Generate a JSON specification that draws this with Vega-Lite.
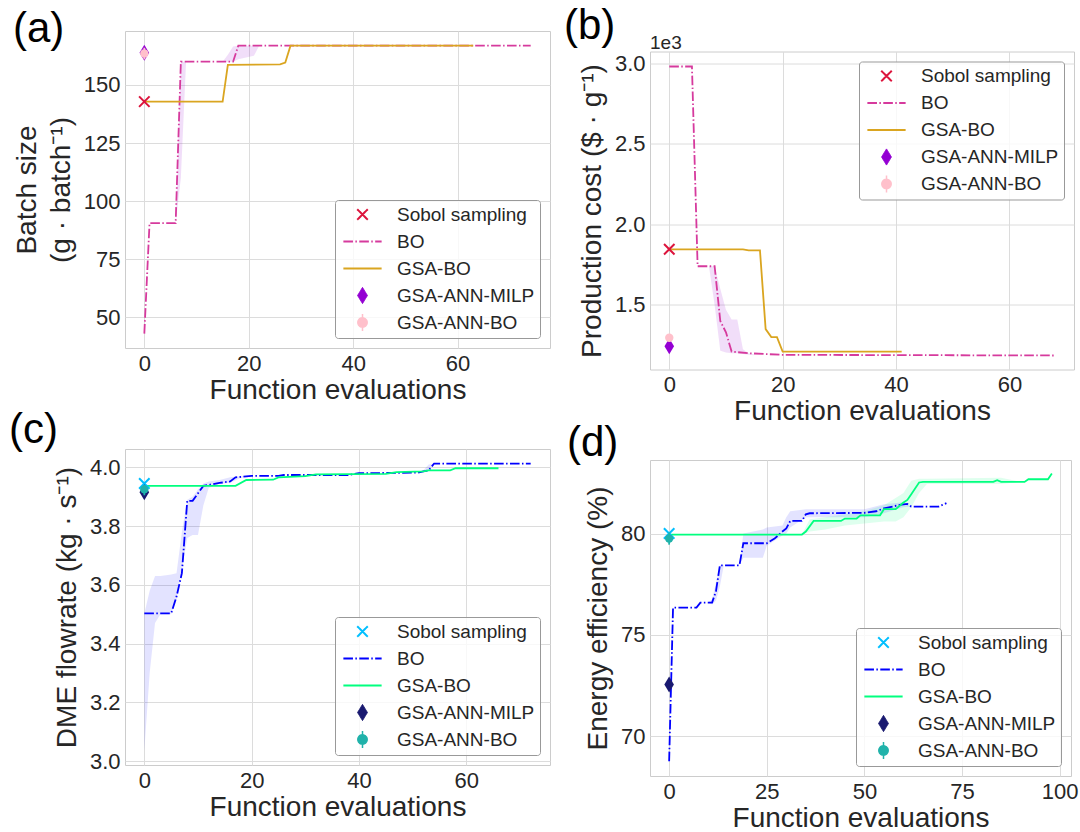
{
  "$schema": "https://vega.github.io/schema/vega-lite/v6.json",
  "background": "white",
  "padding": {"left": 8, "top": 4, "right": 0, "bottom": 0},
  "datasets": {
    "a": [
      {"series": "BO", "x": 0, "y": 43},
      {"series": "BO", "x": 1, "y": 90.5},
      {"series": "BO", "x": 6, "y": 90.5},
      {"series": "BO", "x": 7, "y": 160},
      {"series": "BO", "x": 17, "y": 160},
      {"series": "BO", "x": 18, "y": 166.9},
      {"series": "BO", "x": 74, "y": 166.9},
      {"series": "GSA-BO", "x": 0, "y": 142.8},
      {"series": "GSA-BO", "x": 15, "y": 142.8},
      {"series": "GSA-BO", "x": 16, "y": 158.6},
      {"series": "GSA-BO", "x": 26, "y": 158.8},
      {"series": "GSA-BO", "x": 27, "y": 159.6},
      {"series": "GSA-BO", "x": 28, "y": 166.9},
      {"series": "GSA-BO", "x": 63, "y": 166.9},
      {"series": "BO band", "x": 6, "lo": 90.5, "hi": 90.5},
      {"series": "BO band", "x": 7, "lo": 110, "hi": 160},
      {"series": "BO band", "x": 8, "lo": 160, "hi": 160},
      {"series": "BO band", "x": 15, "lo": 160, "hi": 160},
      {"series": "BO band", "x": 16, "lo": 160, "hi": 163},
      {"series": "BO band", "x": 17, "lo": 160, "hi": 166.5},
      {"series": "BO band", "x": 18, "lo": 161, "hi": 166.9},
      {"series": "BO band", "x": 21, "lo": 162.5, "hi": 166.9},
      {"series": "BO band", "x": 22, "lo": 166.9, "hi": 166.9},
      {"series": "Sobol sampling", "x": 0, "y": 142.8},
      {"series": "GSA-ANN-MILP", "x": 0, "y": 163.8},
      {"series": "GSA-ANN-BO", "x": 0, "y": 163.5, "lo": 161, "hi": 166}
    ],
    "b": [
      {"series": "BO", "x": 0, "y": 2980},
      {"series": "BO", "x": 4, "y": 2980},
      {"series": "BO", "x": 5, "y": 1740},
      {"series": "BO", "x": 8, "y": 1740},
      {"series": "BO", "x": 9, "y": 1400},
      {"series": "BO", "x": 10, "y": 1330},
      {"series": "BO", "x": 11, "y": 1210},
      {"series": "BO", "x": 14, "y": 1200},
      {"series": "BO", "x": 20, "y": 1190},
      {"series": "BO", "x": 68, "y": 1186},
      {"series": "GSA-BO", "x": 0, "y": 1845},
      {"series": "GSA-BO", "x": 13, "y": 1845},
      {"series": "GSA-BO", "x": 14, "y": 1838},
      {"series": "GSA-BO", "x": 16, "y": 1838},
      {"series": "GSA-BO", "x": 17, "y": 1350},
      {"series": "GSA-BO", "x": 18, "y": 1300},
      {"series": "GSA-BO", "x": 19, "y": 1300},
      {"series": "GSA-BO", "x": 20, "y": 1210},
      {"series": "GSA-BO", "x": 41, "y": 1210},
      {"series": "BO band", "x": 7, "lo": 1740, "hi": 1740},
      {"series": "BO band", "x": 8, "lo": 1500, "hi": 1740},
      {"series": "BO band", "x": 9, "lo": 1215, "hi": 1600},
      {"series": "BO band", "x": 10, "lo": 1205, "hi": 1470},
      {"series": "BO band", "x": 11, "lo": 1200, "hi": 1410},
      {"series": "BO band", "x": 12, "lo": 1200, "hi": 1410},
      {"series": "BO band", "x": 13, "lo": 1195, "hi": 1225},
      {"series": "BO band", "x": 14, "lo": 1190, "hi": 1200},
      {"series": "BO band", "x": 15, "lo": 1188, "hi": 1192},
      {"series": "Sobol sampling", "x": 0, "y": 1845},
      {"series": "GSA-ANN-MILP", "x": 0, "y": 1244},
      {"series": "GSA-ANN-BO", "x": 0, "y": 1296, "lo": 1280, "hi": 1312}
    ],
    "c": [
      {"series": "BO", "x": 0, "y": 3.503},
      {"series": "BO", "x": 5, "y": 3.503},
      {"series": "BO", "x": 6, "y": 3.56},
      {"series": "BO", "x": 7, "y": 3.64},
      {"series": "BO", "x": 8, "y": 3.886},
      {"series": "BO", "x": 9, "y": 3.886},
      {"series": "BO", "x": 11, "y": 3.937},
      {"series": "BO", "x": 14, "y": 3.947},
      {"series": "BO", "x": 16, "y": 3.952},
      {"series": "BO", "x": 17, "y": 3.966},
      {"series": "BO", "x": 20, "y": 3.971},
      {"series": "BO", "x": 25, "y": 3.971},
      {"series": "BO", "x": 26, "y": 3.974},
      {"series": "BO", "x": 38, "y": 3.974},
      {"series": "BO", "x": 40, "y": 3.98},
      {"series": "BO", "x": 51, "y": 3.982},
      {"series": "BO", "x": 52, "y": 3.986},
      {"series": "BO", "x": 53, "y": 3.99},
      {"series": "BO", "x": 54, "y": 4.013},
      {"series": "BO", "x": 72, "y": 4.013},
      {"series": "GSA-BO", "x": 0, "y": 3.937},
      {"series": "GSA-BO", "x": 17, "y": 3.937},
      {"series": "GSA-BO", "x": 19, "y": 3.957},
      {"series": "GSA-BO", "x": 24, "y": 3.958},
      {"series": "GSA-BO", "x": 25, "y": 3.966},
      {"series": "GSA-BO", "x": 30, "y": 3.97},
      {"series": "GSA-BO", "x": 32, "y": 3.976},
      {"series": "GSA-BO", "x": 45, "y": 3.978},
      {"series": "GSA-BO", "x": 47, "y": 3.984},
      {"series": "GSA-BO", "x": 52, "y": 3.986},
      {"series": "GSA-BO", "x": 53, "y": 3.99},
      {"series": "GSA-BO", "x": 57, "y": 3.99},
      {"series": "GSA-BO", "x": 58, "y": 3.997},
      {"series": "GSA-BO", "x": 66, "y": 3.997},
      {"series": "BO band", "x": 0, "lo": 3.035, "hi": 3.503},
      {"series": "BO band", "x": 1, "lo": 3.3, "hi": 3.58},
      {"series": "BO band", "x": 2, "lo": 3.47, "hi": 3.63},
      {"series": "BO band", "x": 3, "lo": 3.5, "hi": 3.63},
      {"series": "BO band", "x": 5, "lo": 3.5, "hi": 3.635},
      {"series": "BO band", "x": 6, "lo": 3.55, "hi": 3.64},
      {"series": "BO band", "x": 7, "lo": 3.65, "hi": 3.78},
      {"series": "BO band", "x": 8, "lo": 3.76, "hi": 3.89},
      {"series": "BO band", "x": 9, "lo": 3.77, "hi": 3.9},
      {"series": "BO band", "x": 10, "lo": 3.77, "hi": 3.925},
      {"series": "BO band", "x": 11, "lo": 3.87, "hi": 3.945},
      {"series": "BO band", "x": 12, "lo": 3.93, "hi": 3.952},
      {"series": "BO band", "x": 14, "lo": 3.943, "hi": 3.957},
      {"series": "BO band", "x": 16, "lo": 3.948, "hi": 3.966},
      {"series": "BO band", "x": 18, "lo": 3.965, "hi": 3.97},
      {"series": "BO band", "x": 20, "lo": 3.971, "hi": 3.971},
      {"series": "BO band", "x": 51, "lo": 3.982, "hi": 3.982},
      {"series": "BO band", "x": 52, "lo": 3.984, "hi": 3.99},
      {"series": "BO band", "x": 53, "lo": 3.99, "hi": 4.01},
      {"series": "BO band", "x": 54, "lo": 4.013, "hi": 4.013},
      {"series": "Sobol sampling", "x": 0, "y": 3.945},
      {"series": "GSA-ANN-MILP", "x": 0, "y": 3.915},
      {"series": "GSA-ANN-BO", "x": 0, "y": 3.925, "lo": 3.905, "hi": 3.94}
    ],
    "d": [
      {"series": "BO", "x": 0, "y": 68.76},
      {"series": "BO", "x": 1, "y": 76.34},
      {"series": "BO", "x": 7, "y": 76.34},
      {"series": "BO", "x": 8, "y": 76.59},
      {"series": "BO", "x": 11, "y": 76.59},
      {"series": "BO", "x": 12, "y": 77.16},
      {"series": "BO", "x": 13, "y": 78.43},
      {"series": "BO", "x": 18, "y": 78.43},
      {"series": "BO", "x": 19, "y": 79.52},
      {"series": "BO", "x": 25, "y": 79.52},
      {"series": "BO", "x": 27, "y": 79.75},
      {"series": "BO", "x": 29, "y": 80.1},
      {"series": "BO", "x": 30, "y": 80.25},
      {"series": "BO", "x": 31, "y": 80.62},
      {"series": "BO", "x": 34, "y": 80.62},
      {"series": "BO", "x": 35, "y": 80.95},
      {"series": "BO", "x": 36, "y": 81.0},
      {"series": "BO", "x": 50, "y": 81.02},
      {"series": "BO", "x": 53, "y": 81.1},
      {"series": "BO", "x": 55, "y": 81.24},
      {"series": "BO", "x": 59, "y": 81.41},
      {"series": "BO", "x": 61, "y": 81.46},
      {"series": "BO", "x": 62, "y": 81.33},
      {"series": "BO", "x": 69, "y": 81.33},
      {"series": "BO", "x": 71, "y": 81.5},
      {"series": "GSA-BO", "x": 0, "y": 79.95},
      {"series": "GSA-BO", "x": 34, "y": 79.95},
      {"series": "GSA-BO", "x": 35, "y": 80.1},
      {"series": "GSA-BO", "x": 37, "y": 80.62},
      {"series": "GSA-BO", "x": 44, "y": 80.62},
      {"series": "GSA-BO", "x": 45, "y": 80.74},
      {"series": "GSA-BO", "x": 48, "y": 80.74},
      {"series": "GSA-BO", "x": 49, "y": 80.9},
      {"series": "GSA-BO", "x": 54, "y": 80.9},
      {"series": "GSA-BO", "x": 55, "y": 81.2},
      {"series": "GSA-BO", "x": 58, "y": 81.2},
      {"series": "GSA-BO", "x": 60, "y": 81.53},
      {"series": "GSA-BO", "x": 61, "y": 81.66},
      {"series": "GSA-BO", "x": 62, "y": 81.94},
      {"series": "GSA-BO", "x": 64, "y": 82.52},
      {"series": "GSA-BO", "x": 65, "y": 82.55},
      {"series": "GSA-BO", "x": 83, "y": 82.55},
      {"series": "GSA-BO", "x": 84, "y": 82.63},
      {"series": "GSA-BO", "x": 85, "y": 82.55},
      {"series": "GSA-BO", "x": 91, "y": 82.55},
      {"series": "GSA-BO", "x": 92, "y": 82.68},
      {"series": "GSA-BO", "x": 97, "y": 82.68},
      {"series": "GSA-BO", "x": 98, "y": 82.96},
      {"series": "BO band", "x": 10, "lo": 76.59, "hi": 76.59},
      {"series": "BO band", "x": 11, "lo": 76.5, "hi": 76.75},
      {"series": "BO band", "x": 12, "lo": 76.7, "hi": 77.6},
      {"series": "BO band", "x": 13, "lo": 77.4, "hi": 78.43},
      {"series": "BO band", "x": 14, "lo": 78.43, "hi": 78.43},
      {"series": "BO band", "x": 18, "lo": 78.43, "hi": 78.43},
      {"series": "BO band", "x": 19, "lo": 78.8, "hi": 80.0},
      {"series": "BO band", "x": 24, "lo": 78.8, "hi": 80.2},
      {"series": "BO band", "x": 25, "lo": 79.4, "hi": 80.3},
      {"series": "BO band", "x": 29, "lo": 79.9, "hi": 80.4},
      {"series": "BO band", "x": 30, "lo": 80.0, "hi": 80.8},
      {"series": "BO band", "x": 31, "lo": 80.3, "hi": 81.1},
      {"series": "BO band", "x": 35, "lo": 80.8, "hi": 81.2},
      {"series": "BO band", "x": 50, "lo": 80.8, "hi": 81.2},
      {"series": "BO band", "x": 55, "lo": 81.0, "hi": 81.45},
      {"series": "BO band", "x": 60, "lo": 81.3, "hi": 81.55},
      {"series": "BO band", "x": 62, "lo": 81.33, "hi": 81.33},
      {"series": "GSA-BO band", "x": 34, "lo": 79.95, "hi": 79.95},
      {"series": "GSA-BO band", "x": 36, "lo": 80.1, "hi": 80.7},
      {"series": "GSA-BO band", "x": 40, "lo": 80.2, "hi": 80.8},
      {"series": "GSA-BO band", "x": 45, "lo": 80.4, "hi": 80.95},
      {"series": "GSA-BO band", "x": 50, "lo": 80.5, "hi": 81.1},
      {"series": "GSA-BO band", "x": 55, "lo": 80.6, "hi": 81.4},
      {"series": "GSA-BO band", "x": 58, "lo": 80.6, "hi": 81.75},
      {"series": "GSA-BO band", "x": 60, "lo": 80.8, "hi": 82.0},
      {"series": "GSA-BO band", "x": 62, "lo": 81.3, "hi": 82.6},
      {"series": "GSA-BO band", "x": 64, "lo": 82.0, "hi": 82.7},
      {"series": "GSA-BO band", "x": 66, "lo": 82.45, "hi": 82.7},
      {"series": "GSA-BO band", "x": 85, "lo": 82.45, "hi": 82.75},
      {"series": "GSA-BO band", "x": 90, "lo": 82.55, "hi": 82.55},
      {"series": "Sobol sampling", "x": 0, "y": 80.0},
      {"series": "GSA-ANN-MILP", "x": 0, "y": 72.55},
      {"series": "GSA-ANN-BO", "x": 0, "y": 79.75, "lo": 79.45, "hi": 80.05}
    ]
  },
  "columns": 2,
  "align": "none",
  "spacing": 12,
  "resolve": {"scale": {"color": "independent"}, "legend": {"color": "independent"}},
  "concat": [
    {
      "spacing": 3,
      "resolve": {"scale": {"color": "independent"}, "legend": {"color": "independent"}},
      "vconcat": [
        {
          "title": {"text": "(a)", "dx": -112, "dy": 23.5},
          "width": 425, "height": 317,
          "data": {"name": "a"},
          "encoding": {
            "x": {"field": "x", "type": "quantitative", "scale": {"domain": [-3.7, 77.7], "nice": false, "zero": false}, "axis": {"values": [0, 20, 40, 60], "title": "Function evaluations"}},
            "color": {"field": "series", "type": "nominal",
              "scale": {"domain": ["Sobol sampling", "BO", "GSA-BO", "GSA-ANN-MILP", "GSA-ANN-BO"], "range": ["crimson", "#d63a9d", "goldenrod", "darkviolet", "pink"]},
              "legend": {"title": null, "orient": "bottom-right",
                "encode": {"symbols": {"update": {
                  "shape": {"signal": "datum.value === 'Sobol sampling' ? 'M-0.62,-0.62L0.62,0.62M0.62,-0.62L-0.62,0.62' : datum.value === 'GSA-ANN-MILP' ? 'M0,-0.95L0.58,0L0,0.95L-0.58,0Z' : datum.value === 'GSA-ANN-BO' ? 'M0,-1.0L0,1.0M0.55,0A0.55,0.55 0 1,1 -0.55,0A0.55,0.55 0 1,1 0.55,0Z' : 'M-2.25,0L2.25,0'"},
                  "stroke": {"signal": "datum.value === 'Sobol sampling' ? 'crimson' : datum.value === 'BO' ? '#d63a9d' : datum.value === 'GSA-BO' ? 'goldenrod' : datum.value === 'GSA-ANN-MILP' ? 'darkviolet' : 'pink'"},
                  "fill": {"signal": "datum.value === 'GSA-ANN-MILP' ? 'darkviolet' : datum.value === 'GSA-ANN-BO' ? 'pink' : 'transparent'"},
                  "strokeDash": {"signal": "datum.value === 'BO' ? [9.6, 2.4, 1.5, 2.4] : [1, 0]"},
                  "strokeWidth": {"signal": "datum.value === 'Sobol sampling' ? 2 : datum.value === 'GSA-ANN-MILP' ? 1 : datum.value === 'GSA-ANN-BO' ? 1.5 : 1.8"},
                  "strokeJoin": {"value": "round"},
                  "size": {"value": 289},
                  "opacity": {"value": 1}
                }}}
              }
            }
          },
          "layer": [
            {"transform": [{"filter": "datum.series === 'BO band'"}], "mark": {"type": "area", "opacity": 0.13},
             "encoding": {"y": {"field": "lo", "type": "quantitative", "scale": {"domain": [36.8, 173.2], "nice": false, "zero": false}, "axis": {"values": [50, 75, 100, 125, 150], "title": ["Batch size", "(g · batch⁻¹)"], "titleLineHeight": 34}}, "y2": {"field": "hi"}, "color": {"value": "darkviolet"}}},
            {"transform": [{"filter": "datum.series === 'BO'"}], "mark": {"type": "line", "strokeWidth": 1.8, "strokeDash": [9.6, 2.4, 1.5, 2.4]},
             "encoding": {"y": {"field": "y", "type": "quantitative", "scale": {"domain": [36.8, 173.2], "nice": false, "zero": false}, "axis": {"values": [50, 75, 100, 125, 150], "title": ["Batch size", "(g · batch⁻¹)"], "titleLineHeight": 34}}}},
            {"transform": [{"filter": "datum.series === 'GSA-BO'"}], "mark": {"type": "line", "strokeWidth": 1.8},
             "encoding": {"y": {"field": "y", "type": "quantitative", "scale": {"domain": [36.8, 173.2], "nice": false, "zero": false}, "axis": {"values": [50, 75, 100, 125, 150], "title": ["Batch size", "(g · batch⁻¹)"], "titleLineHeight": 34}}}},
            {"transform": [{"filter": "datum.series === 'Sobol sampling'"}], "mark": {"type": "point", "shape": "M-1,-1L1,1M1,-1L-1,1", "size": 110, "filled": false, "strokeWidth": 2, "opacity": 1},
             "encoding": {"y": {"field": "y", "type": "quantitative", "scale": {"domain": [36.8, 173.2], "nice": false, "zero": false}, "axis": {"values": [50, 75, 100, 125, 150], "title": ["Batch size", "(g · batch⁻¹)"], "titleLineHeight": 34}}}},
            {"transform": [{"filter": "datum.series === 'GSA-ANN-MILP'"}], "mark": {"type": "point", "shape": "M0,-1L0.6,0L0,1L-0.6,0Z", "size": 256, "filled": true, "opacity": 1},
             "encoding": {"y": {"field": "y", "type": "quantitative", "scale": {"domain": [36.8, 173.2], "nice": false, "zero": false}, "axis": {"values": [50, 75, 100, 125, 150], "title": ["Batch size", "(g · batch⁻¹)"], "titleLineHeight": 34}}}},
            {"transform": [{"filter": "datum.series === 'GSA-ANN-BO'"}], "mark": {"type": "rule", "strokeWidth": 1.8},
             "encoding": {"y": {"field": "lo", "type": "quantitative", "scale": {"domain": [36.8, 173.2], "nice": false, "zero": false}, "axis": {"values": [50, 75, 100, 125, 150], "title": ["Batch size", "(g · batch⁻¹)"], "titleLineHeight": 34}}, "y2": {"field": "hi"}}},
            {"transform": [{"filter": "datum.series === 'GSA-ANN-BO'"}], "mark": {"type": "point", "shape": "circle", "size": 70, "filled": true, "opacity": 1},
             "encoding": {"y": {"field": "y", "type": "quantitative", "scale": {"domain": [36.8, 173.2], "nice": false, "zero": false}, "axis": {"values": [50, 75, 100, 125, 150], "title": ["Batch size", "(g · batch⁻¹)"], "titleLineHeight": 34}}}}
          ]
        },
        {
          "title": {"text": "(c)", "dx": -116, "dy": 7},
          "width": 425, "height": 316,
          "data": {"name": "c"},
          "encoding": {
            "x": {"field": "x", "type": "quantitative", "scale": {"domain": [-3.6, 75.6], "nice": false, "zero": false}, "axis": {"values": [0, 20, 40, 60], "title": "Function evaluations"}},
            "color": {"field": "series", "type": "nominal",
              "scale": {"domain": ["Sobol sampling", "BO", "GSA-BO", "GSA-ANN-MILP", "GSA-ANN-BO"], "range": ["deepskyblue", "blue", "springgreen", "midnightblue", "lightseagreen"]},
              "legend": {"title": null, "orient": "bottom-right",
                "encode": {"symbols": {"update": {
                  "shape": {"signal": "datum.value === 'Sobol sampling' ? 'M-0.62,-0.62L0.62,0.62M0.62,-0.62L-0.62,0.62' : datum.value === 'GSA-ANN-MILP' ? 'M0,-0.95L0.58,0L0,0.95L-0.58,0Z' : datum.value === 'GSA-ANN-BO' ? 'M0,-1.0L0,1.0M0.55,0A0.55,0.55 0 1,1 -0.55,0A0.55,0.55 0 1,1 0.55,0Z' : 'M-2.25,0L2.25,0'"},
                  "stroke": {"signal": "datum.value === 'Sobol sampling' ? 'deepskyblue' : datum.value === 'BO' ? 'blue' : datum.value === 'GSA-BO' ? 'springgreen' : datum.value === 'GSA-ANN-MILP' ? 'midnightblue' : 'lightseagreen'"},
                  "fill": {"signal": "datum.value === 'GSA-ANN-MILP' ? 'midnightblue' : datum.value === 'GSA-ANN-BO' ? 'lightseagreen' : 'transparent'"},
                  "strokeDash": {"signal": "datum.value === 'BO' ? [9.6, 2.4, 1.5, 2.4] : [1, 0]"},
                  "strokeWidth": {"signal": "datum.value === 'Sobol sampling' ? 2 : datum.value === 'GSA-ANN-MILP' ? 1 : datum.value === 'GSA-ANN-BO' ? 1.5 : 1.8"},
                  "strokeJoin": {"value": "round"},
                  "size": {"value": 289},
                  "opacity": {"value": 1}
                }}}
              }
            }
          },
          "layer": [
            {"transform": [{"filter": "datum.series === 'BO band'"}], "mark": {"type": "area", "opacity": 0.11},
             "encoding": {"y": {"field": "lo", "type": "quantitative", "scale": {"domain": [2.987, 4.0625], "nice": false, "zero": false}, "axis": {"values": [3.0, 3.2, 3.4, 3.6, 3.8, 4.0], "format": ".1f", "title": "DME flowrate (kg · s⁻¹)"}}, "y2": {"field": "hi"}, "color": {"value": "blue"}}},
            {"transform": [{"filter": "datum.series === 'BO'"}], "mark": {"type": "line", "strokeWidth": 1.8, "strokeDash": [9.6, 2.4, 1.5, 2.4]},
             "encoding": {"y": {"field": "y", "type": "quantitative", "scale": {"domain": [2.987, 4.0625], "nice": false, "zero": false}, "axis": {"values": [3.0, 3.2, 3.4, 3.6, 3.8, 4.0], "format": ".1f", "title": "DME flowrate (kg · s⁻¹)"}}}},
            {"transform": [{"filter": "datum.series === 'GSA-BO'"}], "mark": {"type": "line", "strokeWidth": 1.8},
             "encoding": {"y": {"field": "y", "type": "quantitative", "scale": {"domain": [2.987, 4.0625], "nice": false, "zero": false}, "axis": {"values": [3.0, 3.2, 3.4, 3.6, 3.8, 4.0], "format": ".1f", "title": "DME flowrate (kg · s⁻¹)"}}}},
            {"transform": [{"filter": "datum.series === 'Sobol sampling'"}], "mark": {"type": "point", "shape": "M-1,-1L1,1M1,-1L-1,1", "size": 110, "filled": false, "strokeWidth": 2, "opacity": 1},
             "encoding": {"y": {"field": "y", "type": "quantitative", "scale": {"domain": [2.987, 4.0625], "nice": false, "zero": false}, "axis": {"values": [3.0, 3.2, 3.4, 3.6, 3.8, 4.0], "format": ".1f", "title": "DME flowrate (kg · s⁻¹)"}}}},
            {"transform": [{"filter": "datum.series === 'GSA-ANN-MILP'"}], "mark": {"type": "point", "shape": "M0,-1L0.6,0L0,1L-0.6,0Z", "size": 256, "filled": true, "opacity": 1},
             "encoding": {"y": {"field": "y", "type": "quantitative", "scale": {"domain": [2.987, 4.0625], "nice": false, "zero": false}, "axis": {"values": [3.0, 3.2, 3.4, 3.6, 3.8, 4.0], "format": ".1f", "title": "DME flowrate (kg · s⁻¹)"}}}},
            {"transform": [{"filter": "datum.series === 'GSA-ANN-BO'"}], "mark": {"type": "rule", "strokeWidth": 1.8},
             "encoding": {"y": {"field": "lo", "type": "quantitative", "scale": {"domain": [2.987, 4.0625], "nice": false, "zero": false}, "axis": {"values": [3.0, 3.2, 3.4, 3.6, 3.8, 4.0], "format": ".1f", "title": "DME flowrate (kg · s⁻¹)"}}, "y2": {"field": "hi"}}},
            {"transform": [{"filter": "datum.series === 'GSA-ANN-BO'"}], "mark": {"type": "point", "shape": "circle", "size": 70, "filled": true, "opacity": 1},
             "encoding": {"y": {"field": "y", "type": "quantitative", "scale": {"domain": [2.987, 4.0625], "nice": false, "zero": false}, "axis": {"values": [3.0, 3.2, 3.4, 3.6, 3.8, 4.0], "format": ".1f", "title": "DME flowrate (kg · s⁻¹)"}}}}
          ]
        }
      ]
    },
    {
      "spacing": -5,
      "resolve": {"scale": {"color": "independent"}, "legend": {"color": "independent"}},
      "vconcat": [
        {
          "spacing": -28.5,
          "resolve": {"scale": {"color": "independent"}, "legend": {"color": "independent"}},
          "vconcat": [
            {"width": 1, "height": 1, "data": {"values": []}, "mark": "point", "view": {"stroke": "transparent"}},
            {
              "title": {"text": "(b)", "dx": -86, "dy": 18},
              "width": 424, "height": 318,
              "data": {"name": "b"},
              "encoding": {
                "x": {"field": "x", "type": "quantitative", "scale": {"domain": [-3.4, 71.4], "nice": false, "zero": false}, "axis": {"values": [0, 20, 40, 60], "title": "Function evaluations"}},
                "color": {"field": "series", "type": "nominal",
                  "scale": {"domain": ["Sobol sampling", "BO", "GSA-BO", "GSA-ANN-MILP", "GSA-ANN-BO"], "range": ["crimson", "#d63a9d", "goldenrod", "darkviolet", "pink"]},
                  "legend": {"title": null, "orient": "top-right",
                    "encode": {"symbols": {"update": {
                      "shape": {"signal": "datum.value === 'Sobol sampling' ? 'M-0.62,-0.62L0.62,0.62M0.62,-0.62L-0.62,0.62' : datum.value === 'GSA-ANN-MILP' ? 'M0,-0.95L0.58,0L0,0.95L-0.58,0Z' : datum.value === 'GSA-ANN-BO' ? 'M0,-1.0L0,1.0M0.55,0A0.55,0.55 0 1,1 -0.55,0A0.55,0.55 0 1,1 0.55,0Z' : 'M-2.25,0L2.25,0'"},
                      "stroke": {"signal": "datum.value === 'Sobol sampling' ? 'crimson' : datum.value === 'BO' ? '#d63a9d' : datum.value === 'GSA-BO' ? 'goldenrod' : datum.value === 'GSA-ANN-MILP' ? 'darkviolet' : 'pink'"},
                      "fill": {"signal": "datum.value === 'GSA-ANN-MILP' ? 'darkviolet' : datum.value === 'GSA-ANN-BO' ? 'pink' : 'transparent'"},
                      "strokeDash": {"signal": "datum.value === 'BO' ? [9.6, 2.4, 1.5, 2.4] : [1, 0]"},
                      "strokeWidth": {"signal": "datum.value === 'Sobol sampling' ? 2 : datum.value === 'GSA-ANN-MILP' ? 1 : datum.value === 'GSA-ANN-BO' ? 1.5 : 1.8"},
                      "strokeJoin": {"value": "round"},
                      "size": {"value": 289},
                      "opacity": {"value": 1}
                    }}}
                  }
                }
              },
              "layer": [
                {"transform": [{"filter": "datum.series === 'BO band'"}], "mark": {"type": "area", "opacity": 0.13},
                 "encoding": {"y": {"field": "lo", "type": "quantitative", "scale": {"domain": [1099, 3073], "nice": false, "zero": false}, "axis": {"values": [1500, 2000, 2500, 3000], "labelExpr": "format(datum.value / 1000, '.1f')", "title": "Production cost ($ · g⁻¹)"}}, "y2": {"field": "hi"}, "color": {"value": "darkviolet"}}},
                {"transform": [{"filter": "datum.series === 'BO'"}], "mark": {"type": "line", "strokeWidth": 1.8, "strokeDash": [9.6, 2.4, 1.5, 2.4]},
                 "encoding": {"y": {"field": "y", "type": "quantitative", "scale": {"domain": [1099, 3073], "nice": false, "zero": false}, "axis": {"values": [1500, 2000, 2500, 3000], "labelExpr": "format(datum.value / 1000, '.1f')", "title": "Production cost ($ · g⁻¹)"}}}},
                {"transform": [{"filter": "datum.series === 'GSA-BO'"}], "mark": {"type": "line", "strokeWidth": 1.8},
                 "encoding": {"y": {"field": "y", "type": "quantitative", "scale": {"domain": [1099, 3073], "nice": false, "zero": false}, "axis": {"values": [1500, 2000, 2500, 3000], "labelExpr": "format(datum.value / 1000, '.1f')", "title": "Production cost ($ · g⁻¹)"}}}},
                {"transform": [{"filter": "datum.series === 'Sobol sampling'"}], "mark": {"type": "point", "shape": "M-1,-1L1,1M1,-1L-1,1", "size": 110, "filled": false, "strokeWidth": 2, "opacity": 1},
                 "encoding": {"y": {"field": "y", "type": "quantitative", "scale": {"domain": [1099, 3073], "nice": false, "zero": false}, "axis": {"values": [1500, 2000, 2500, 3000], "labelExpr": "format(datum.value / 1000, '.1f')", "title": "Production cost ($ · g⁻¹)"}}}},
                {"transform": [{"filter": "datum.series === 'GSA-ANN-MILP'"}], "mark": {"type": "point", "shape": "M0,-1L0.6,0L0,1L-0.6,0Z", "size": 256, "filled": true, "opacity": 1},
                 "encoding": {"y": {"field": "y", "type": "quantitative", "scale": {"domain": [1099, 3073], "nice": false, "zero": false}, "axis": {"values": [1500, 2000, 2500, 3000], "labelExpr": "format(datum.value / 1000, '.1f')", "title": "Production cost ($ · g⁻¹)"}}}},
                {"transform": [{"filter": "datum.series === 'GSA-ANN-BO'"}], "mark": {"type": "rule", "strokeWidth": 1.8},
                 "encoding": {"y": {"field": "lo", "type": "quantitative", "scale": {"domain": [1099, 3073], "nice": false, "zero": false}, "axis": {"values": [1500, 2000, 2500, 3000], "labelExpr": "format(datum.value / 1000, '.1f')", "title": "Production cost ($ · g⁻¹)"}}, "y2": {"field": "hi"}}},
                {"transform": [{"filter": "datum.series === 'GSA-ANN-BO'"}], "mark": {"type": "point", "shape": "circle", "size": 70, "filled": true, "opacity": 1},
                 "encoding": {"y": {"field": "y", "type": "quantitative", "scale": {"domain": [1099, 3073], "nice": false, "zero": false}, "axis": {"values": [1500, 2000, 2500, 3000], "labelExpr": "format(datum.value / 1000, '.1f')", "title": "Production cost ($ · g⁻¹)"}}}},
                {"transform": [{"filter": "datum.series === 'Sobol sampling'"}], "mark": {"type": "text", "align": "left", "baseline": "alphabetic", "dy": -2.5, "fontSize": 19},
                 "encoding": {"x": {"datum": -3.4, "type": "quantitative"}, "y": {"datum": 3073, "type": "quantitative", "scale": {"domain": [1099, 3073], "nice": false, "zero": false}, "axis": {"values": [1500, 2000, 2500, 3000], "labelExpr": "format(datum.value / 1000, '.1f')", "title": "Production cost ($ · g⁻¹)"}}, "text": {"value": "1e3"}, "color": {"value": "#262626"}}}
              ]
            }
          ]
        },
        {
          "title": {"text": "(d)", "dx": -83, "dy": 8.9},
          "width": 421, "height": 316,
          "data": {"name": "d"},
          "encoding": {
            "x": {"field": "x", "type": "quantitative", "scale": {"domain": [-4.9, 102.9], "nice": false, "zero": false}, "axis": {"values": [0, 25, 50, 75, 100], "title": "Function evaluations"}},
            "color": {"field": "series", "type": "nominal",
              "scale": {"domain": ["Sobol sampling", "BO", "GSA-BO", "GSA-ANN-MILP", "GSA-ANN-BO"], "range": ["deepskyblue", "blue", "springgreen", "midnightblue", "lightseagreen"]},
              "legend": {"title": null, "orient": "bottom-right",
                "encode": {"symbols": {"update": {
                  "shape": {"signal": "datum.value === 'Sobol sampling' ? 'M-0.62,-0.62L0.62,0.62M0.62,-0.62L-0.62,0.62' : datum.value === 'GSA-ANN-MILP' ? 'M0,-0.95L0.58,0L0,0.95L-0.58,0Z' : datum.value === 'GSA-ANN-BO' ? 'M0,-1.0L0,1.0M0.55,0A0.55,0.55 0 1,1 -0.55,0A0.55,0.55 0 1,1 0.55,0Z' : 'M-2.25,0L2.25,0'"},
                  "stroke": {"signal": "datum.value === 'Sobol sampling' ? 'deepskyblue' : datum.value === 'BO' ? 'blue' : datum.value === 'GSA-BO' ? 'springgreen' : datum.value === 'GSA-ANN-MILP' ? 'midnightblue' : 'lightseagreen'"},
                  "fill": {"signal": "datum.value === 'GSA-ANN-MILP' ? 'midnightblue' : datum.value === 'GSA-ANN-BO' ? 'lightseagreen' : 'transparent'"},
                  "strokeDash": {"signal": "datum.value === 'BO' ? [9.6, 2.4, 1.5, 2.4] : [1, 0]"},
                  "strokeWidth": {"signal": "datum.value === 'Sobol sampling' ? 2 : datum.value === 'GSA-ANN-MILP' ? 1 : datum.value === 'GSA-ANN-BO' ? 1.5 : 1.8"},
                  "strokeJoin": {"value": "round"},
                  "size": {"value": 289},
                  "opacity": {"value": 1}
                }}}
              }
            }
          },
          "layer": [
            {"transform": [{"filter": "datum.series === 'BO band'"}], "mark": {"type": "area", "opacity": 0.11},
             "encoding": {"y": {"field": "lo", "type": "quantitative", "scale": {"domain": [68.03, 83.63], "nice": false, "zero": false}, "axis": {"values": [70, 75, 80], "title": "Energy efficiency (%)"}}, "y2": {"field": "hi"}, "color": {"value": "blue"}}},
            {"transform": [{"filter": "datum.series === 'GSA-BO band'"}], "mark": {"type": "area", "opacity": 0.13},
             "encoding": {"y": {"field": "lo", "type": "quantitative", "scale": {"domain": [68.03, 83.63], "nice": false, "zero": false}, "axis": {"values": [70, 75, 80], "title": "Energy efficiency (%)"}}, "y2": {"field": "hi"}, "color": {"value": "springgreen"}}},
            {"transform": [{"filter": "datum.series === 'BO'"}], "mark": {"type": "line", "strokeWidth": 1.8, "strokeDash": [9.6, 2.4, 1.5, 2.4]},
             "encoding": {"y": {"field": "y", "type": "quantitative", "scale": {"domain": [68.03, 83.63], "nice": false, "zero": false}, "axis": {"values": [70, 75, 80], "title": "Energy efficiency (%)"}}}},
            {"transform": [{"filter": "datum.series === 'GSA-BO'"}], "mark": {"type": "line", "strokeWidth": 1.8},
             "encoding": {"y": {"field": "y", "type": "quantitative", "scale": {"domain": [68.03, 83.63], "nice": false, "zero": false}, "axis": {"values": [70, 75, 80], "title": "Energy efficiency (%)"}}}},
            {"transform": [{"filter": "datum.series === 'Sobol sampling'"}], "mark": {"type": "point", "shape": "M-1,-1L1,1M1,-1L-1,1", "size": 110, "filled": false, "strokeWidth": 2, "opacity": 1},
             "encoding": {"y": {"field": "y", "type": "quantitative", "scale": {"domain": [68.03, 83.63], "nice": false, "zero": false}, "axis": {"values": [70, 75, 80], "title": "Energy efficiency (%)"}}}},
            {"transform": [{"filter": "datum.series === 'GSA-ANN-MILP'"}], "mark": {"type": "point", "shape": "M0,-1L0.6,0L0,1L-0.6,0Z", "size": 256, "filled": true, "opacity": 1},
             "encoding": {"y": {"field": "y", "type": "quantitative", "scale": {"domain": [68.03, 83.63], "nice": false, "zero": false}, "axis": {"values": [70, 75, 80], "title": "Energy efficiency (%)"}}}},
            {"transform": [{"filter": "datum.series === 'GSA-ANN-BO'"}], "mark": {"type": "rule", "strokeWidth": 1.8},
             "encoding": {"y": {"field": "lo", "type": "quantitative", "scale": {"domain": [68.03, 83.63], "nice": false, "zero": false}, "axis": {"values": [70, 75, 80], "title": "Energy efficiency (%)"}}, "y2": {"field": "hi"}}},
            {"transform": [{"filter": "datum.series === 'GSA-ANN-BO'"}], "mark": {"type": "point", "shape": "circle", "size": 70, "filled": true, "opacity": 1},
             "encoding": {"y": {"field": "y", "type": "quantitative", "scale": {"domain": [68.03, 83.63], "nice": false, "zero": false}, "axis": {"values": [70, 75, 80], "title": "Energy efficiency (%)"}}}}
          ]
        }
      ]
    }
  ],
  "config": {
    "font": "Liberation Sans",
    "view": {"stroke": "#cccccc", "strokeWidth": 1},
    "axis": {"domain": false, "ticks": false, "grid": true, "gridColor": "#dcdcdc", "gridWidth": 1, "labelFontSize": 22, "labelColor": "#262626", "labelPadding": 5, "titleFontSize": 28, "titleFontWeight": "normal", "titleColor": "#262626", "labelFlush": false, "labelOverlap": false},
    "axisX": {"titlePadding": 2},
    "axisY": {"titlePadding": 8},
    "title": {"fontSize": 42, "fontWeight": "normal", "anchor": "start", "frame": "group", "color": "#000000", "offset": 0, "baseline": "alphabetic"},
    "legend": {"offset": 10, "labelFontSize": 19, "labelColor": "#262626", "padding": 5, "rowPadding": 7, "symbolOffset": 13, "labelOffset": 25, "symbolSize": 289, "strokeColor": "#999999", "fillColor": "rgba(255,255,255,0.8)", "cornerRadius": 3, "labelExpr": "datum.label + '\u00a0\u00a0'"}
  }
}
